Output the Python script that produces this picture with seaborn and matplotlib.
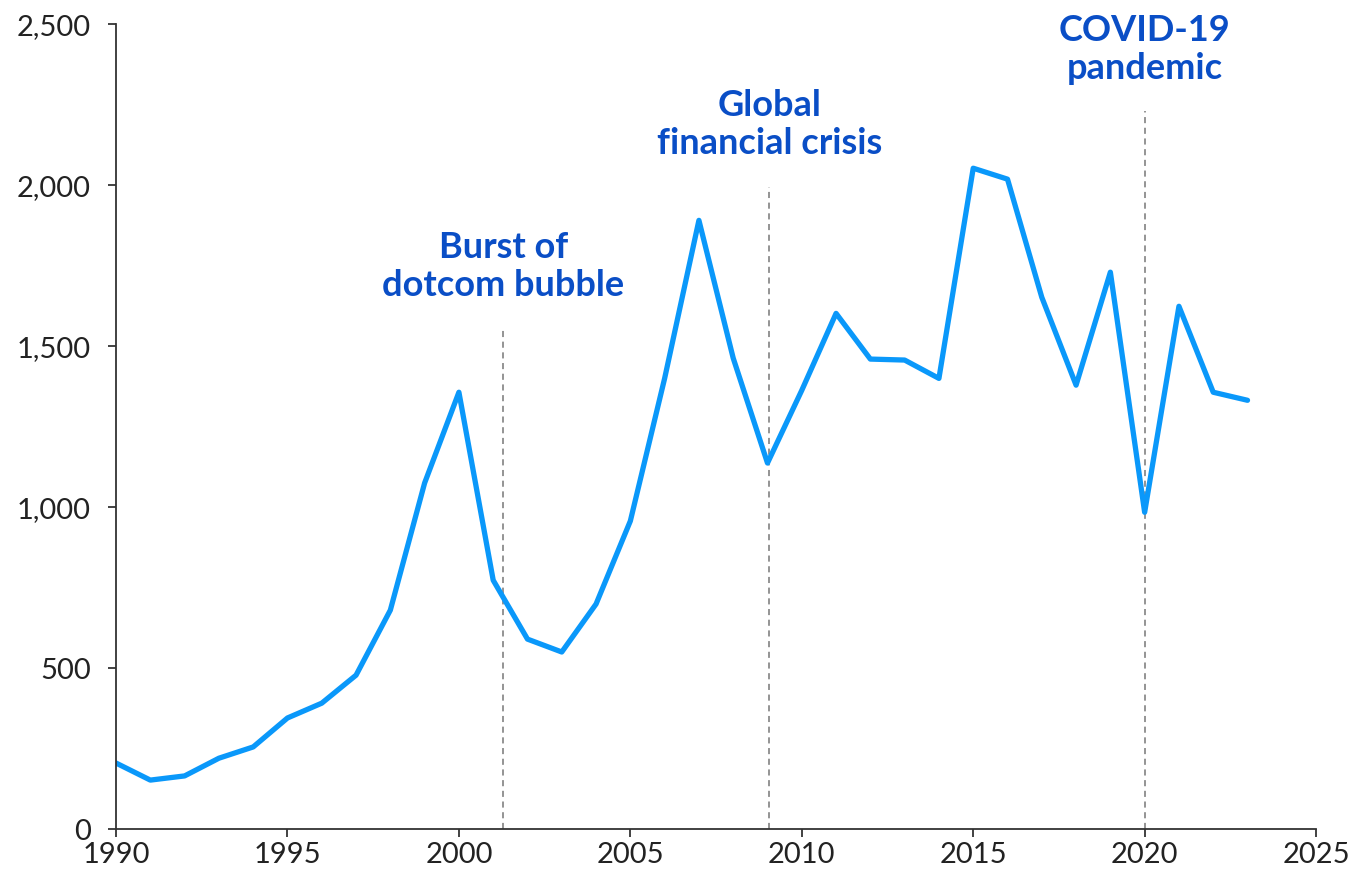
import matplotlib
matplotlib.use("Agg")
import matplotlib.pyplot as plt
import seaborn as sns
import pandas as pd

years = list(range(1990, 2024))
values = [205, 152, 165, 220, 255, 345, 391, 478, 680, 1075, 1357, 773, 590, 550, 699,
          957, 1400, 1891, 1463, 1137, 1363, 1602, 1460, 1457, 1400, 2053, 2019, 1652,
          1379, 1730, 984, 1624, 1357, 1332]

event_years = [2001.3, 2009.05, 2020.0]
event_tops = [1556, 1994, 2230]
event_labels = ["Burst of\ndotcom bubble", "Global\nfinancial crisis", "COVID-19\npandemic"]
label_y = [1748, 2189, 2422]

x_ticks = [1990, 1995, 2000, 2005, 2010, 2015, 2020, 2025]
y_ticks = [0, 500, 1000, 1500, 2000, 2500]

sns.set_theme(style="ticks")
plt.rcParams['font.family'] = ['Lato', 'DejaVu Sans']

fig = plt.figure(figsize=(13.54, 8.69), dpi=100)
ax = fig.add_axes([0.0857, 0.046, 0.8863, 0.926])

df = pd.DataFrame({"year": years, "value": values})
sns.lineplot(data=df, x="year", y="value", ax=ax, color="#0a98fa", linewidth=3.8)

ax.vlines(event_years, 0, event_tops, colors="#777777", linestyles=(0, (4, 3)), linewidth=1.1, zorder=1)
for xe, ly, lab in zip(event_years, label_y, event_labels):
    ax.text(xe, ly, lab, ha="center", va="center", fontsize=26, fontweight="bold",
            color="#0a4ec6", linespacing=1.18)

ax.set_xlim(1990, 2025)
ax.set_ylim(0, 2500)
ax.set_xticks(x_ticks)
ax.set_yticks(y_ticks)
ax.set_yticklabels([f"{v:,}" for v in y_ticks])
ax.set_xlabel("")
ax.set_ylabel("")
ax.tick_params(axis="both", labelsize=21, colors="#222222", length=6, width=1.2)
ax.tick_params(axis="y", pad=12)
ax.tick_params(axis="x", pad=3)
for s in ["top", "right"]:
    ax.spines[s].set_visible(False)
for s in ["left", "bottom"]:
    ax.spines[s].set_color("#333333")
    ax.spines[s].set_linewidth(1.3)

fig.savefig("out.png", dpi=100)
